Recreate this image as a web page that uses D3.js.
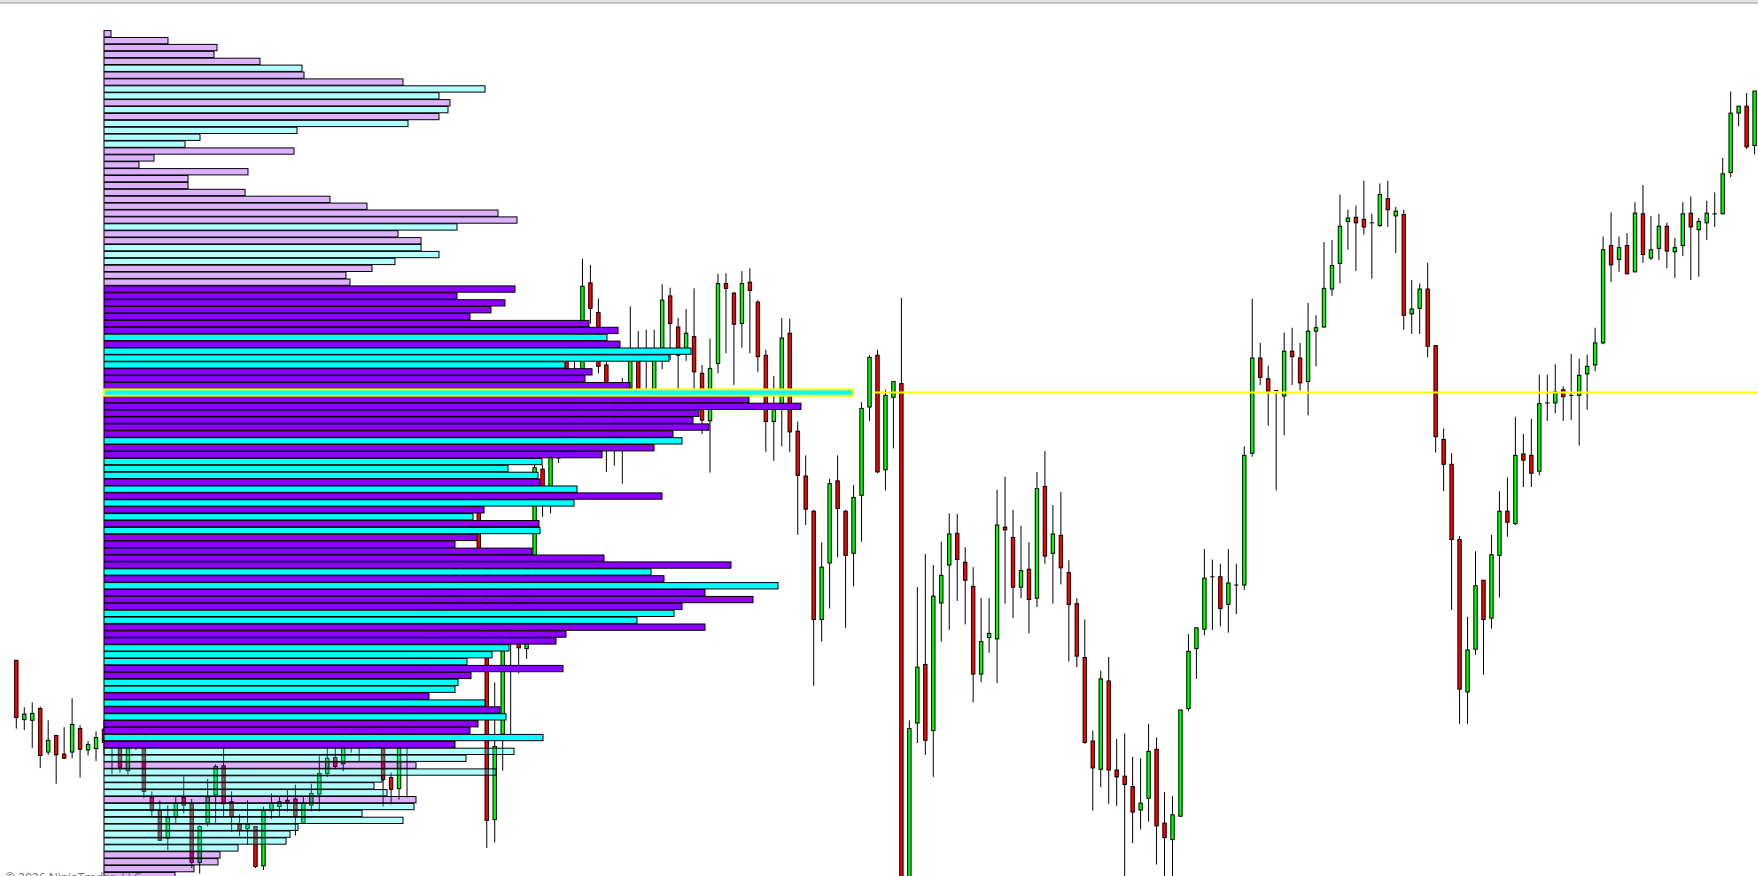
<!DOCTYPE html>
<html>
<head>
<meta charset="utf-8">
<script src="https://cdn.jsdelivr.net/npm/d3@7/dist/d3.min.js"></script>
<style>
  html, body { margin: 0; padding: 0; background: #ffffff; overflow: hidden; }
  svg { display: block; }
</style>
</head>
<body>
<svg id="chart" width="1758" height="876"></svg>
<script>
// ---------------- DATA (prices expressed in ticks) ----------------
const candleOpen = [
  31.2,22.6,22.5,24.2,17.9,20.3,17.6,17.9,21.3,18.2, 18.4,21.2,20.0,19.5,15.2,20.0,21.0,11.4,9.4,5.4,
  8.5,11.3,10.4,1.9,7.6,11.7,15.9,10.7,7.4,6.8, 7.1,1.4,9.4,10.0,10.9,11.1,7.6,10.2,11.8,14.8,
  17.1,16.2,19.5,20.5,19.5,21.0,20.5,14.2,12.6,20.0, 21.0,27.0,33.0,38.0,42.0,40.0,44.0,49.0,55.0,47.0,
  8.1,20.5,34.5,40.0,32.9,45.0,58.9,56.4,60.5,75.5, 61.2,72.5,85.9,81.6,74.0,63.0,70.0,70.6,76.2,76.4,
  70.1,75.9,84.0,79.5,76.3,78.1,72.8,65.9,74.2,85.8, 84.4,80.0,86.0,83.1,75.4,65.8,68.4,78.6,64.4,57.9,
  52.8,37.1,45.3,57.2,52.8,46.7,55.1,67.9,75.4,58.8, 69.3,71.3,-2.0,22.1,30.6,21.0,39.5,45.0,49.6,45.4,
  41.9,29.2,34.5,34.3,50.5,49.0,41.8,44.4,40.2,56.4, 46.7,49.3,43.9,39.4,31.6,19.5,15.4,28.2,15.3,14.4,
  12.9,9.5,11.2,18.3,7.6,5.2,8.6,24.2,32.9,35.7, 43.3,43.3,39.3,42.1,42.1,61.2,75.0,72.0,70.3,69.5,
  76.0,75.0,71.6,78.9,79.5,85.0,88.7,94.8,95.4,95.1, 94.6,94.2,98.1,95.6,95.8,81.4,82.2,85.0,76.8,63.2,
  59.6,48.7,26.6,32.8,42.8,37.3,46.4,52.8,51.0,61.1, 60.9,58.6,68.5,68.5,70.4,69.6,69.6,72.7,74.0,77.2,
  91.3,89.3,91.3,87.5,95.9,89.5,90.9,94.1,90.4,91.3, 96.0,93.6,94.6,95.9,95.9,101.9,110.5,111.5,105.8
];
const candleHigh = [
  31.2,24.4,25.1,24.5,22.5,20.4,21.5,25.7,21.8,19.5, 20.9,22.5,21.5,21.0,21.0,22.0,22.0,12.2,10.9,10.2,
  11.4,14.4,11.1,7.3,14.0,16.1,19.0,12.2,8.9,10.9, 7.1,10.0,11.9,11.4,12.4,13.2,11.4,13.3,17.3,18.6,
  19.0,20.5,21.5,21.5,22.0,22.5,22.0,14.9,21.0,22.0, 28.0,34.0,39.0,43.0,44.0,46.0,47.2,55.5,56.0,47.5,
  28.0,34.1,39.0,42.0,46.0,59.5,59.5,61.0,60.8,76.0, 79.0,89.4,88.5,83.6,74.6,71.0,72.1,82.5,78.9,79.1,
  79.1,85.7,85.2,80.8,82.1,85.1,74.0,77.8,87.2,87.3, 84.6,87.6,88.0,83.4,76.2,72.4,80.8,80.7,65.8,60.9,
  53.0,48.3,57.5,60.9,53.0,56.6,68.6,75.4,76.2,70.4, 71.6,83.7,22.5,41.8,46.6,45.0,48.4,52.5,52.4,47.6,
  44.7,40.2,40.2,55.9,57.8,53.0,50.7,48.3,58.5,61.5, 53.7,55.6,45.7,40.2,37.1,21.0,29.7,31.7,19.8,20.6,
  17.2,17.0,22.0,20.0,12.1,11.5,24.0,35.0,36.0,47.3, 45.8,45.2,47.3,45.2,62.2,83.6,77.2,73.9,70.3,78.7,
  79.4,77.2,83.0,81.2,91.8,92.1,98.7,96.5,97.1,100.7, 95.9,100.3,100.7,96.9,96.5,86.3,85.8,88.8,76.8,64.8,
  61.2,49.2,37.5,47.0,42.8,49.4,55.7,57.7,66.5,64.0, 66.2,72.6,72.6,74.1,70.9,75.6,74.9,75.5,79.4,92.6,
  96.1,92.6,93.1,97.6,100.1,95.6,95.9,94.6,92.4,97.6, 98.4,95.3,97.8,99.0,104.0,113.6,111.5,113.4,113.7
];
const candleLow = [
  21.3,21.1,18.5,15.6,17.5,13.3,17.0,17.0,14.2,17.4, 16.6,17.6,14.7,14.9,14.7,18.2,11.2,8.6,5.1,3.7,
  7.6,9.0,1.1,0.3,7.1,7.6,8.5,6.3,5.7,4.5, 1.1,0.8,8.2,8.5,9.3,5.8,7.6,9.3,9.3,14.3,
  15.5,15.1,17.8,16.6,19.0,19.0,10.0,10.3,11.0,11.3, 20.0,26.5,32.0,36.0,38.0,39.0,43.0,48.8,47.0,4.0,
  4.8,15.2,20.5,29.3,31.4,44.0,52.0,52.5,59.8,60.8, 60.8,70.0,80.0,72.8,58.5,59.4,56.8,69.0,65.0,68.0,
  68.0,73.4,74.7,70.5,74.6,70.5,64.0,58.4,72.8,75.7, 71.1,76.5,75.7,73.0,61.4,60.1,62.2,61.4,49.4,50.8,
  27.5,33.9,38.7,46.1,35.9,41.9,48.4,65.9,58.3,55.8, 61.9,-3.0,-3.0,19.2,17.5,14.3,33.9,35.6,39.8,36.4,
  25.1,28.0,32.3,27.9,39.4,37.3,40.2,35.1,38.9,45.2, 39.4,42.2,31.0,30.2,19.1,9.4,12.8,10.4,10.1,-1.0,
  4.7,6.7,7.8,1.6,-1.0,-1.0,8.5,23.8,28.5,34.8, 35.6,36.1,35.2,37.9,41.4,60.7,71.1,65.2,55.8,63.8,
  71.1,70.3,66.7,73.8,79.4,84.0,85.8,90.7,87.6,92.9, 86.5,94.0,94.0,90.2,79.1,78.5,78.5,75.1,61.3,55.7,
  38.5,22.0,22.0,32.0,29.1,35.8,40.3,49.1,50.8,56.3, 56.3,58.0,65.9,67.0,65.9,66.0,62.3,67.5,73.1,77.0,
  86.0,87.5,87.2,87.4,88.8,89.2,89.2,88.0,86.6,89.8, 86.3,86.8,92.1,94.0,95.9,101.2,108.6,105.3,104.5
];
const candleClose = [
  22.9,23.4,23.5,17.4,19.6,17.5,17.0,21.9,18.3,19.0, 20.0,19.3,19.0,15.7,20.0,21.0,12.2,9.4,5.1,8.4,
  10.5,10.2,1.9,7.1,11.4,15.8,10.4,8.6,6.6,7.4, 1.3,9.4,10.5,10.7,10.6,8.5,10.5,11.9,14.8,17.0,
  15.8,19.5,20.5,19.5,21.0,20.0,13.9,12.5,20.0,21.0, 27.0,33.0,38.0,42.0,40.0,45.0,47.0,55.0,47.4,8.0,
  18.7,32.7,38.0,33.0,45.0,59.1,56.4,60.6,60.5,61.0, 72.5,85.4,82.2,73.8,71.4,70.0,62.0,76.2,66.0,75.2,
  75.9,83.4,80.0,75.4,78.6,73.0,66.0,73.5,85.8,85.1, 79.9,85.8,84.8,75.2,65.8,68.2,77.9,64.3,58.0,53.1,
  37.1,44.7,56.8,53.2,46.4,54.8,67.7,75.1,58.5,69.6, 71.6,-2.0,21.3,30.2,19.6,40.5,43.5,49.5,45.8,42.8,
  29.2,33.9,35.1,50.8,50.1,41.8,44.2,40.0,56.1,46.3, 49.5,44.6,39.3,31.8,19.3,15.6,28.5,15.3,14.3,13.2,
  9.2,10.5,18.0,7.2,5.5,8.8,24.0,32.5,35.9,43.1, 43.3,38.7,42.4,42.1,60.9,75.0,72.2,70.2,70.3,76.0,
  75.2,71.4,78.9,79.4,85.1,88.4,94.1,95.3,94.6,94.0, 94.6,98.7,96.5,96.3,81.2,82.1,85.0,76.7,63.6,59.6,
  48.7,27.0,32.7,42.0,37.1,46.5,52.8,51.2,60.9,60.2, 58.3,68.4,68.5,70.1,69.4,69.6,72.5,73.8,77.2,90.7,
  88.5,91.0,87.2,96.0,90.0,90.7,94.1,90.5,91.0,95.9, 94.0,94.8,96.0,95.9,101.7,110.5,111.5,105.6,113.7
];

// Volume profile, one row per price level, listed from the top level downward
const profileTopLevel = 122;
const profileVolume = [
  7,64,113,110,156,198,200,299,381,335,
  346,344,335,304,193,96,81,190,50,35,
  144,84,84,141,226,263,394,413,353,294,
  317,317,335,291,268,242,246,411,353,401,
  387,366,485,514,503,516,587,565,461,488,
  481,526,749,645,697,595,589,605,569,578,
  550,498,438,404,434,436,473,558,470,380,
  369,435,436,373,351,428,500,627,547,560,
  674,601,649,578,570,533,601,462,452,405,
  388,363,459,367,354,351,325,381,396,402,
  374,366,439,351,410,362,312,392,278,270,
  283,312,310,258,299,194,186,182,134,116,
  114,90,71
];
// dominant side per row: "P" (violet) or "C" (cyan)
const profileSide = [
  "P","P","P","P","P","C","P","P","C","C",
  "P","C","P","C","C","C","C","P","P","P",
  "P","P","P","P","P","P","P","P","C","P",
  "P","C","C","C","P","P","P","P","P","P",
  "P","P","P","P","C","P","C","C","C","P",
  "P","P","C","P","P","P","P","P","P","C",
  "P","P","C","C","C","P","C","P","C","P",
  "C","P","C","P","P","P","P","P","C","P",
  "C","P","P","P","C","C","P","P","P","C",
  "C","C","P","P","C","C","P","C","P","C",
  "P","P","C","P","C","C","P","C","C","C",
  "C","P","C","C","C","C","C","C","C","P",
  "P","P","P"
];
const valueAreaRows = [37, 103];     // first and last row of the value area
const pocLineStartBar = 107.5;       // naked POC line starts after this bar
const copyrightText = "© 2026 NinjaTrader, LLC";

// ---------------- STYLES ----------------
const COLOR_UP = "#00ff00", COLOR_DOWN = "#ff0000";
const COLOR_P = "#8b00ff", COLOR_C = "#00ffff";
const OUTSIDE_VA_OPACITY = 0.3;

// ---------------- SCALES ----------------
const W = 1758, H = 876;
const svg = d3.select("#chart");
const nBars = candleOpen.length;
const x = d3.scaleLinear().domain([0, nBars - 1]).range([16.3, 1754.6]);
const y = d3.scaleLinear().domain([0, 122]).range([875.55, 33.75]);
const rowStep = y(0) - y(1);
const maxVol = d3.max(profileVolume);
const pocRow = profileVolume.indexOf(maxVol);
const xv = d3.scaleLinear().domain([0, maxVol]).range([104, 853]);

svg.append("rect").attr("width", W).attr("height", H).attr("fill", "#ffffff");
// top frame line
svg.append("rect").attr("x", 0).attr("y", 0).attr("width", W).attr("height", 2.5).attr("fill", "#e2e2e2");
svg.append("line").attr("x1", 0).attr("x2", W).attr("y1", 3).attr("y2", 3)
  .attr("stroke", "#8c8c8c").attr("stroke-width", 1);

// ---------------- CANDLES ----------------
const candles = d3.range(nBars).map(i => ({
  i, o: candleOpen[i], h: candleHigh[i], l: candleLow[i], c: candleClose[i]
}));
const gC = svg.append("g");
gC.selectAll("line.wick").data(candles).join("line")
  .attr("x1", d => x(d.i)).attr("x2", d => x(d.i))
  .attr("y1", d => y(d.h)).attr("y2", d => y(d.l))
  .attr("stroke", "#000").attr("stroke-width", 1);
const bodyW = 3.4;
gC.selectAll("rect.body").data(candles).join("rect")
  .attr("x", d => x(d.i) - bodyW / 2)
  .attr("width", bodyW)
  .attr("y", d => y(Math.max(d.o, d.c)))
  .attr("height", d => Math.max(Math.abs(y(d.o) - y(d.c)), 0.01))
  .attr("fill", d => d.c > d.o ? COLOR_UP : (d.c < d.o ? COLOR_DOWN : "#000"))
  .attr("stroke", "#000").attr("stroke-width", 1);

// ---------------- VOLUME PROFILE ----------------
const rows = profileVolume.map((v, k) => ({
  k, v, level: profileTopLevel - k, side: profileSide[k],
  inVA: k >= valueAreaRows[0] && k <= valueAreaRows[1]
}));
const barH = rowStep - 0.6;   // outer height slightly over the row step: no seams between rows
const gP = svg.append("g");
gP.selectAll("rect").data(rows).join("rect")
  .attr("x", xv(0))
  .attr("y", d => y(d.level) - rowStep / 2 + 0.3)
  .attr("width", d => xv(d.v) - xv(0))
  .attr("height", barH)
  .attr("fill", d => d.side === "P" ? COLOR_P : COLOR_C)
  .attr("fill-opacity", d => d.inVA ? 1 : OUTSIDE_VA_OPACITY)
  .attr("stroke", d => d.k === pocRow ? "#ffff00" : "#000")
  .attr("stroke-width", d => d.k === pocRow ? 2 : 1);
// keep the point-of-control row (yellow outline) on top of its neighbours
gP.selectAll("rect").filter(d => d.k === pocRow).raise();

// naked POC extension
const pocLevel = profileTopLevel - pocRow;
svg.append("line")
  .attr("x1", x(pocLineStartBar)).attr("x2", W)
  .attr("y1", y(pocLevel)).attr("y2", y(pocLevel))
  .attr("stroke", "#ffff00").attr("stroke-width", 2);

// copyright
svg.append("text").attr("x", 5).attr("y", 882)
  .attr("font-family", "'Open Sans', 'DejaVu Sans', sans-serif")
  .attr("font-size", 12).attr("fill", "#6e6e6e")
  .text(copyrightText);
</script>
</body>
</html>
